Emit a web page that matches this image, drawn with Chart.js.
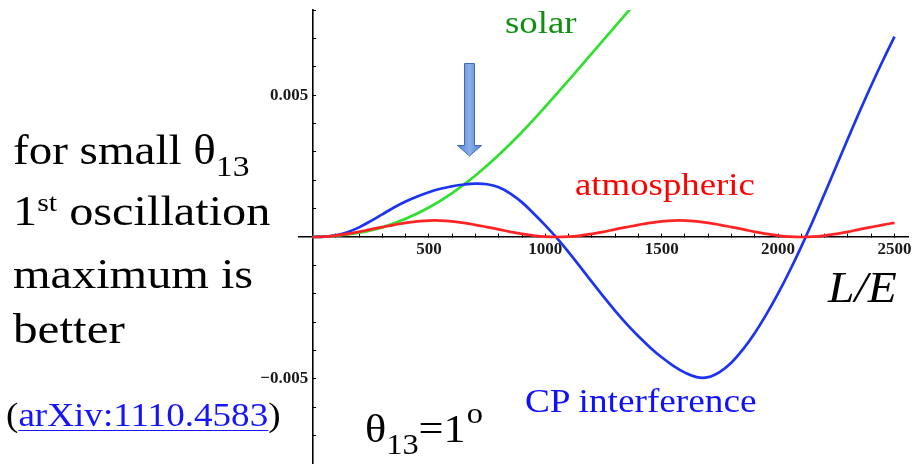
<!DOCTYPE html>
<html>
<head>
<meta charset="utf-8">
<script src="https://cdn.jsdelivr.net/npm/chart.js@4.4.1/dist/chart.umd.min.js"></script>
<style>
  body { margin: 0; background: #fff; }
  #wrap { position: relative; width: 914px; height: 464px; overflow: hidden; }
  #chart { position: absolute; left: 0; top: 0; }
  .t { position: absolute; font-family: 'Liberation Serif', 'Times New Roman', serif; white-space: nowrap; line-height: 1; transform-origin: 0 0; color: #000; }
  .sub, .sup { position: relative; }
  a { color: #1414ff; text-decoration: underline; text-decoration-thickness: 1px; text-underline-offset: 4px; }
</style>
</head>
<body>
<div id="wrap">
  <canvas id="chart" width="914" height="464"></canvas>

  <div class="t" style="left:13px; top:129px; font-size:42px; transform:scaleX(1.12)">for small &theta;<span class="sub" style="font-size:30px; top:12px">13</span></div>
  <div class="t" style="left:13px; top:190px; font-size:42px; transform:scaleX(1.15)">1<span class="sup" style="font-size:26px; top:-14px">st</span> oscillation</div>
  <div class="t" style="left:13px; top:253px; font-size:42px; transform:scaleX(1.15)">maximum is</div>
  <div class="t" style="left:13px; top:308px; font-size:42px; transform:scaleX(1.17)">better</div>
  <div class="t" style="left:6px; top:399px; font-size:33px; transform:scaleX(1.125)">(<a>arXiv:1110.4583</a>)</div>
  <div class="t" style="left:365px; top:408px; font-size:41px; transform:scaleX(1.08)">&theta;<span class="sub" style="font-size:30px; top:12px">13</span>=1<span class="sup" style="font-size:30px; top:-19px; margin-left:1px">o</span></div>

  <div class="t" style="left:505px; top:6px; font-size:32px; color:#0f8f0f; transform:scaleX(1.15)">solar</div>
  <div class="t" style="left:575px; top:168px; font-size:32px; color:#ff0000; transform:scaleX(1.15)">atmospheric</div>
  <div class="t" style="left:525px; top:385px; font-size:33px; color:#1010ff; transform:scaleX(1.13)">CP interference</div>
  <div class="t" style="left:828px; top:266px; font-size:44px; font-style:italic; transform:scaleX(1.08)">L/E</div>

  <svg style="position:absolute; left:452px; top:58px" width="36" height="106">
    <defs>
      <linearGradient id="ag" x1="0" y1="0" x2="1" y2="0">
        <stop offset="0" stop-color="#4f7fcf"/>
        <stop offset="0.5" stop-color="#8cafe8"/>
        <stop offset="1" stop-color="#4f7fcf"/>
      </linearGradient>
    </defs>
    <path d="M12.5 5.5 H22.5 V87.5 H29.5 L17.5 98 L5.5 87.5 H12.5 Z" fill="url(#ag)" stroke="#416cb4" stroke-width="1"/>
  </svg>
</div>

<script>
// L/E sample points (shared by atmospheric and CP curves)
const lOverE = [0, 50, 100, 150, 200, 250, 300, 350, 400, 450, 500, 550, 600, 650, 700, 750, 800, 850, 900, 950,
  1000, 1050, 1100, 1150, 1200, 1250, 1300, 1350, 1400, 1450, 1500, 1550, 1600, 1650, 1700, 1750, 1800, 1850, 1900, 1950,
  2000, 2050, 2100, 2150, 2200, 2250, 2300, 2350, 2400, 2450, 2500];

const cpInterference = [0, 0.00001, 0.00006, 0.00017, 0.00034, 0.00056, 0.0008, 0.00104, 0.00125, 0.00143,
  0.00158, 0.0017, 0.00179, 0.00185, 0.00188, 0.00186, 0.00175, 0.00153, 0.00122, 0.00083,
  0.00041, -0.00004, -0.00053, -0.00105, -0.00158, -0.0021, -0.0026, -0.00307, -0.0035, -0.00389,
  -0.00424, -0.00454, -0.00478, -0.00494, -0.00494, -0.00475, -0.00442, -0.00395, -0.00338, -0.00272,
  -0.00199, -0.00119, -0.00033, 0.00058, 0.00153, 0.0025, 0.00347, 0.00442, 0.00534, 0.00622, 0.00706];

const atmospheric = [0, 0.00001, 0.00005, 0.00011, 0.00018, 0.00027, 0.00035, 0.00043, 0.0005, 0.00055,
  0.00058, 0.00058, 0.00055, 0.0005, 0.00043, 0.00035, 0.00027, 0.00018, 0.00011, 0.00005,
  0.00001, 0, 0.00001, 0.00005, 0.00011, 0.00018, 0.00027, 0.00035, 0.00043, 0.0005,
  0.00055, 0.00058, 0.00058, 0.00055, 0.0005, 0.00043, 0.00035, 0.00027, 0.00018, 0.00011,
  0.00005, 0.00001, 0, 0.00001, 0.00005, 0.00011, 0.00018, 0.00027, 0.00035, 0.00043, 0.0005];

// solar term, sampled more coarsely (runs off the top)
const solarLE = [0, 100, 200, 300, 400, 500, 600, 700, 800, 900, 1000, 1100, 1200, 1300, 1400];
const solar = [0, 0.00004, 0.00015, 0.00034, 0.00064, 0.00104, 0.00155, 0.00217, 0.00289, 0.0037,
  0.00459, 0.00552, 0.00647, 0.00742, 0.00837];

// axis ticks
const xTicks = [100, 200, 300, 400, 500, 600, 700, 800, 900, 1000, 1100, 1200, 1300, 1400, 1500,
  1600, 1700, 1800, 1900, 2000, 2100, 2200, 2300, 2400, 2500];
const xLabelled = [500, 1000, 1500, 2000, 2500];
const yTicks = [-0.008, -0.007, -0.006, -0.005, -0.004, -0.003, -0.002, -0.001, 0,
  0.001, 0.002, 0.003, 0.004, 0.005, 0.006, 0.007, 0.008];
const yLabelValues = [-0.005, 0.005];
const yLabelTexts = ['\u22120.005 ', '0.005 '];

const tickFont = { family: "'Liberation Serif', serif", size: 17, weight: 'bold' };

function pts(xs, ys) {
  return xs.map((x, i) => ({ x: x, y: ys[i] }));
}

// axes are drawn through the origin, so they must not take any layout room
function noRoom(s) {
  s.width = s.isHorizontal() ? s.width : 0;
  s.height = s.isHorizontal() ? 0 : s.height;
  s.paddingTop = 0;
  s.paddingBottom = 0;
  s.paddingLeft = 0;
  s.paddingRight = 0;
}

new Chart(document.getElementById('chart'), {
  type: 'line',
  data: {
    datasets: [
      {
        label: 'atmospheric',
        data: pts(lOverE, atmospheric),
        borderColor: '#ff2424',
        borderWidth: 2.7,
        pointRadius: 0,
        tension: 0.4
      },
      {
        label: 'CP interference',
        data: pts(lOverE, cpInterference),
        borderColor: '#1c34f2',
        borderWidth: 2.7,
        pointRadius: 0,
        tension: 0.4
      },
      {
        label: 'solar',
        data: pts(solarLE, solar),
        borderColor: '#30e030',
        borderWidth: 2.7,
        pointRadius: 0,
        tension: 0.4
      }
    ]
  },
  options: {
    responsive: false,
    animation: false,
    layout: { padding: { left: 298.5, right: 5.5, top: 10, bottom: 0 } },
    plugins: { legend: { display: false }, tooltip: { enabled: false } },
    scales: {
      x: {
        type: 'linear',
        min: -60,
        max: 2560,
        position: { y: 0 },
        afterFit: noRoom,
        afterBuildTicks: s => { s.ticks = xTicks.map(v => ({ value: v })); },
        border: { color: '#000', width: 1.6 },
        grid: { drawOnChartArea: false, tickLength: -4, tickColor: '#000', tickWidth: 1 },
        ticks: {
          autoSkip: false,
          maxRotation: 0,
          padding: 6,
          color: '#1a1a1a',
          font: tickFont,
          callback: v => xLabelled.includes(v) ? String(v) : ''
        }
      },
      y: {
        type: 'linear',
        min: -0.008,
        max: 0.008,
        position: { x: 0 },
        afterFit: noRoom,
        afterBuildTicks: s => { s.ticks = yTicks.map(v => ({ value: v })); },
        border: { color: '#000', width: 1.6 },
        grid: { drawOnChartArea: false, tickLength: -4, tickColor: '#000', tickWidth: 1 },
        ticks: {
          autoSkip: false,
          padding: 0,
          color: '#1a1a1a',
          font: tickFont,
          callback: v => {
            const i = yLabelValues.findIndex(l => Math.abs(l - v) < 1e-9);
            return i >= 0 ? yLabelTexts[i] : '';
          }
        }
      }
    }
  }
});
</script>
</body>
</html>
